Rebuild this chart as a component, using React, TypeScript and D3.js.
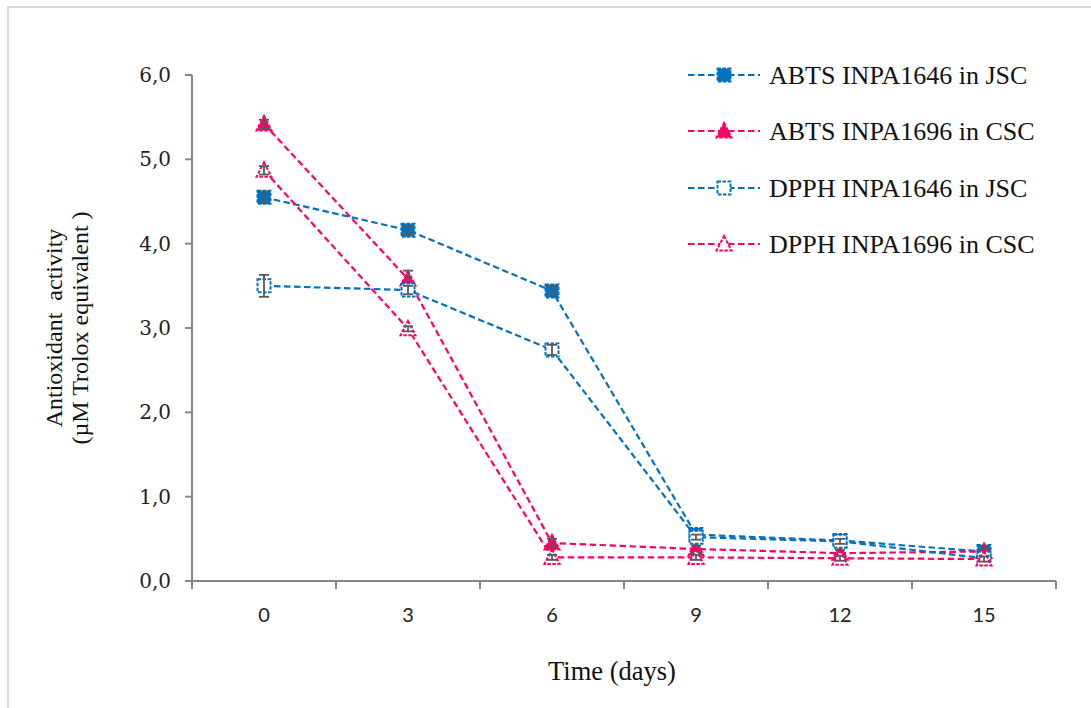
import React from "react";
import * as d3 from "d3";

// Sampling days (x categories)
const days = ["0", "3", "6", "9", "12", "15"];

// Antioxidant activity (µM Trolox equivalent) per series
const abtsJsc = [4.55, 4.16, 3.44, 0.55, 0.48, 0.35];
const abtsCsc = [5.42, 3.58, 0.45, 0.38, 0.33, 0.35];
const dpphJsc = [3.50, 3.45, 2.74, 0.52, 0.47, 0.27];
const dpphCsc = [4.87, 2.99, 0.28, 0.28, 0.27, 0.26];

// Standard deviations for error bars
const abtsJscErr = [0.07, 0.05, 0.05, 0.04, 0.04, 0.04];
const abtsCscErr = [0.05, 0.1, 0.05, 0.04, 0.04, 0.04];
const dpphJscErr = [0.13, 0.05, 0.06, 0.03, 0.03, 0.03];
const dpphCscErr = [0.05, 0.03, 0.03, 0.03, 0.03, 0.03];

const yTicks = [0, 1, 2, 3, 4, 5, 6];

const BLUE = "#0070C0";
const PINK = "#FF0066";
const AXIS = "#868686";
const ERR = "#595959";

const SERIF = "Liberation Serif";
const TICK_SERIF = "DejaVu Serif";
const SANS = "Lato";

type Series = {
  name: string;
  values: number[];
  errs: number[];
  color: string;
  shape: "square" | "triangle";
  filled: boolean;
};

const series: Series[] = [
  { name: "ABTS INPA1646 in JSC", values: abtsJsc, errs: abtsJscErr, color: BLUE, shape: "square", filled: true },
  { name: "ABTS INPA1696 in CSC", values: abtsCsc, errs: abtsCscErr, color: PINK, shape: "triangle", filled: true },
  { name: "DPPH INPA1646 in JSC", values: dpphJsc, errs: dpphJscErr, color: BLUE, shape: "square", filled: false },
  { name: "DPPH INPA1696 in CSC", values: dpphCsc, errs: dpphCscErr, color: PINK, shape: "triangle", filled: false },
];

const fmt = (v: number) => v.toFixed(1).replace(".", ",");

function Marker({ s, cx, cy }: { s: Series; cx: number; cy: number }) {
  const fill = s.filled ? s.color : "#ffffff";
  const dash = "3.5,1.5";
  if (s.shape === "square") {
    const h = 6.5;
    return (
      <rect
        x={cx - h}
        y={cy - h}
        width={2 * h}
        height={2 * h}
        fill={fill}
        stroke={s.color}
        strokeWidth={2}
        strokeDasharray={dash}
      />
    );
  }
  const w = 7.5;
  const path = `M${cx},${cy - 8} L${cx + w},${cy + 6.5} L${cx - w},${cy + 6.5} Z`;
  return <path d={path} fill={fill} stroke={s.color} strokeWidth={2} strokeDasharray={dash} />;
}

export default function App() {
  const W = 1091;
  const H = 708;
  const left = 192;
  const right = 1056;
  const top = 75;
  const bottom = 581;

  const x = d3.scaleBand<string>().domain(days).range([left, right]).paddingInner(0).paddingOuter(0);
  const y = d3.scaleLinear().domain([0, 6]).range([bottom, top]);
  const cx = (d: string) => (x(d) as number) + x.bandwidth() / 2;

  const line = d3
    .line<number>()
    .x((_, i) => cx(days[i]))
    .y((v) => y(v));

  const boundaries = days.map((d) => x(d) as number).concat([right]);

  const legendX1 = 688;
  const legendX2 = 760;
  const legendRows = [75, 131, 188, 244];

  return (
    <svg
      width={W}
      height={H}
      style={{ position: "absolute", left: 0, top: 0, background: "#ffffff" }}
    >
      <rect x={0} y={0} width={W} height={H} fill="#ffffff" />
      <rect x={8} y={7} width={W + 20} height={H + 20} fill="none" stroke="#d9d9d9" strokeWidth={2} />

      {/* y axis */}
      <line x1={left} x2={left} y1={top} y2={bottom} stroke={AXIS} strokeWidth={2} />
      {yTicks.map((t) => (
        <g key={t}>
          <line x1={left - 7} x2={left} y1={y(t)} y2={y(t)} stroke={AXIS} strokeWidth={2} />
          <text
            x={171}
            y={y(t)}
            textAnchor="end"
            dominantBaseline="central"
            fontFamily={TICK_SERIF}
            fontSize={20}
            fill="#222"
          >
            {fmt(t)}
          </text>
        </g>
      ))}

      {/* x axis */}
      <line x1={left} x2={right} y1={bottom} y2={bottom} stroke={AXIS} strokeWidth={2} />
      {boundaries.map((b, i) => (
        <line key={i} x1={b} x2={b} y1={bottom} y2={bottom + 8} stroke={AXIS} strokeWidth={2} />
      ))}
      {days.map((d) => (
        <text
          key={d}
          x={cx(d)}
          y={614}
          textAnchor="middle"
          dominantBaseline="central"
          fontFamily={SANS}
          fontSize={20}
          fill="#222"
        >
          {d}
        </text>
      ))}

      {/* axis titles */}
      <text
        x={612}
        y={671}
        textAnchor="middle"
        dominantBaseline="central"
        fontFamily={SERIF}
        fontSize={26.5}
        fill="#111"
      >
        Time (days)
      </text>
      <g transform="translate(54,328) rotate(-90)">
        <text
          x={0}
          y={0}
          textAnchor="middle"
          dominantBaseline="central"
          fontFamily={SERIF}
          fontSize={24}
          fill="#111"
          style={{ whiteSpace: "pre" }}
        >
          {"Antioxidant  activity"}
        </text>
        <text
          x={0}
          y={26}
          textAnchor="middle"
          dominantBaseline="central"
          fontFamily={SERIF}
          fontSize={24}
          fill="#111"
          style={{ whiteSpace: "pre" }}
        >
          {"(µM Trolox equivalent )"}
        </text>
      </g>

      {/* series */}
      {series.map((s) => (
        <g key={s.name}>
          <path
            d={line(s.values) as string}
            fill="none"
            stroke={s.color}
            strokeWidth={2.2}
            strokeDasharray="6.5,3.5"
          />
          {s.values.map((v, i) => {
            const px = cx(days[i]);
            const e = s.errs[i];
            return (
              <g key={i}>
                <Marker s={s} cx={px} cy={y(v)} />
                <g stroke={ERR} strokeWidth={1.8}>
                  <line x1={px} x2={px} y1={y(v + e)} y2={y(v - e)} />
                  <line x1={px - 5} x2={px + 5} y1={y(v + e)} y2={y(v + e)} />
                  <line x1={px - 5} x2={px + 5} y1={y(v - e)} y2={y(v - e)} />
                </g>
              </g>
            );
          })}
        </g>
      ))}

      {/* legend */}
      {series.map((s, i) => {
        const ly = legendRows[i];
        return (
          <g key={s.name}>
            <line
              x1={legendX1}
              x2={legendX2}
              y1={ly}
              y2={ly}
              stroke={s.color}
              strokeWidth={2.2}
              strokeDasharray="6.5,3.5"
            />
            <Marker s={s} cx={(legendX1 + legendX2) / 2} cy={ly} />
            <text
              x={769}
              y={ly}
              dominantBaseline="central"
              fontFamily={SERIF}
              fontSize={26}
              fill="#111"
            >
              {s.name}
            </text>
          </g>
        );
      })}
    </svg>
  );
}
